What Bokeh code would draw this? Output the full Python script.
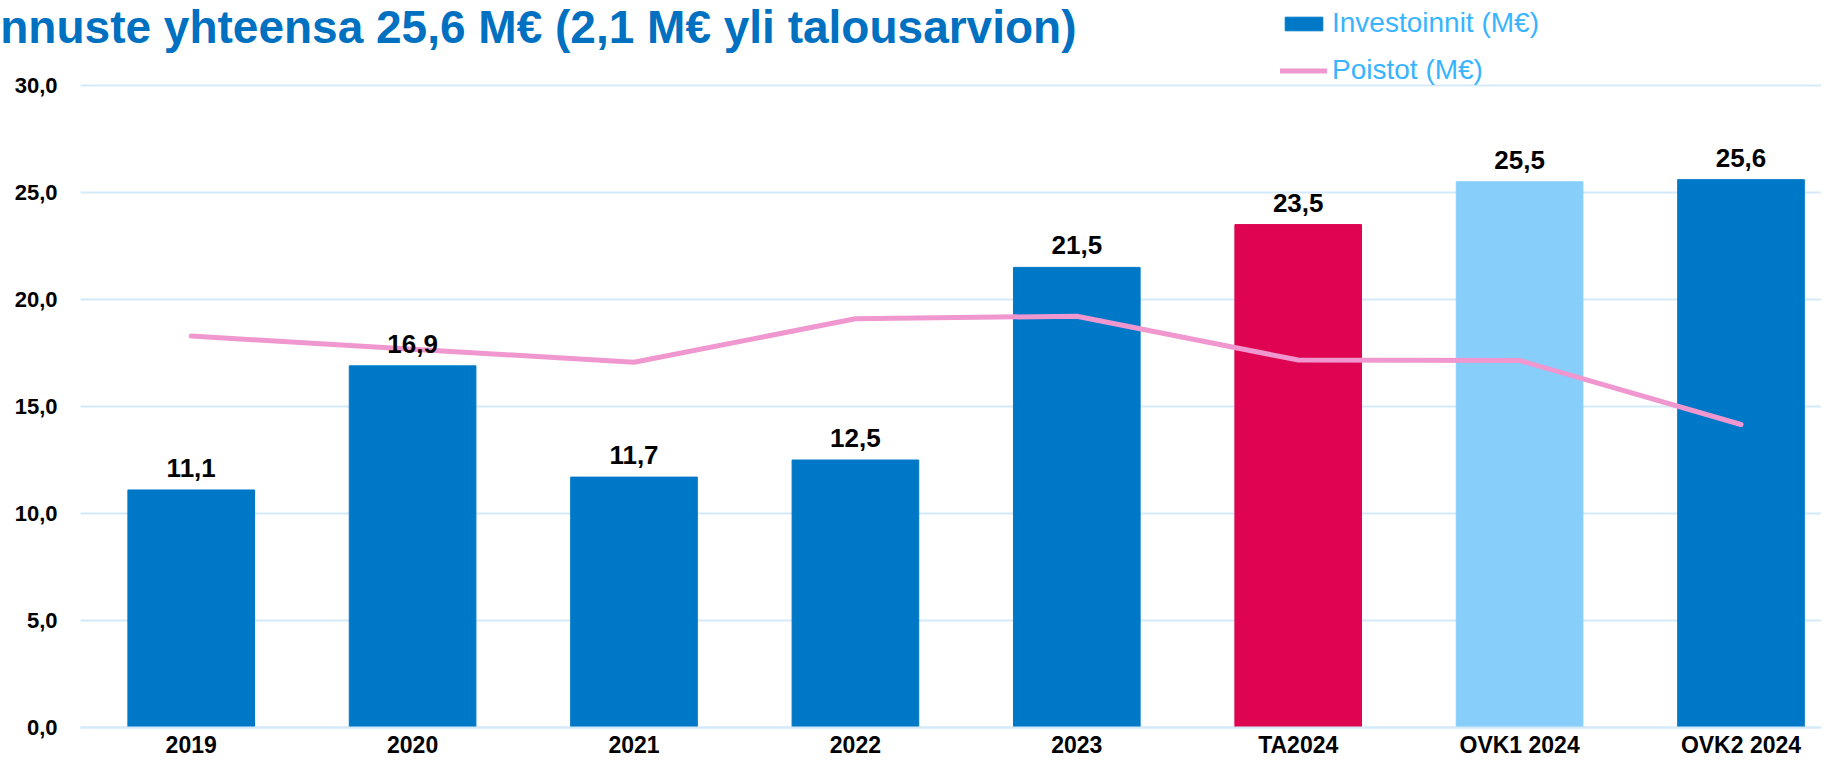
from bokeh.plotting import figure
from bokeh.models import ColumnDataSource, FixedTicker, Legend, LegendItem, Label, Range1d
from bokeh.core.properties import value
from bokeh.embed import file_html
from bokeh.resources import INLINE

categories = ["2019", "2020", "2021", "2022", "2023", "TA2024", "OVK1 2024", "OVK2 2024"]
investoinnit = [11.1, 16.9, 11.7, 12.5, 21.5, 23.5, 25.5, 25.6]
poistot = [18.29, 17.68, 17.07, 19.10, 19.22, 17.17, 17.15, 14.16]
bar_colors = ["#0078C8", "#0078C8", "#0078C8", "#0078C8", "#0078C8", "#DE0451", "#87CEFA", "#0078C8"]
y_ticks = [0, 5, 10, 15, 20, 25, 30]
title_text = "nnuste yhteensa 25,6 M€ (2,1 M€ yli talousarvion)"

W, H = 1821, 758
# plot-area geometry (pixels): left edge, top (30) and zero line
PX_LEFT, PX_TOP, PX_ZERO = 80, 85, 727
CAT_W = 221.4
Y_MAX = 30

xs = list(range(len(categories)))
labels = [f"{v:.1f}".replace(".", ",") for v in investoinnit]

# ranges chosen so that the frame covers the whole canvas
x_start = -0.5 - PX_LEFT / CAT_W
x_end = -0.5 + (W - PX_LEFT) / CAT_W
unit = (PX_ZERO - PX_TOP) / Y_MAX
y_end = Y_MAX + PX_TOP / unit
y_start = -(H - PX_ZERO) / unit

src = ColumnDataSource(dict(x=xs, top=investoinnit, color=bar_colors, label=labels, poistot=poistot))

FONT = "Liberation Sans"
GRID = "#D4EAF9"

p = figure(width=W, height=H, output_backend="svg", toolbar_location=None,
           x_range=Range1d(x_start, x_end), y_range=Range1d(y_start, y_end),
           min_border_left=0, min_border_right=0, min_border_top=0, min_border_bottom=0)
p.outline_line_color = None
p.background_fill_color = "white"
p.border_fill_color = "white"

# grid lines (only across the plot area)
p.xgrid.grid_line_color = None
p.ygrid.ticker = FixedTicker(ticks=y_ticks)
p.ygrid.grid_line_color = GRID
p.ygrid.grid_line_width = 2
try:
    p.ygrid.cross_bounds = (-0.5, x_end)
except Exception:
    p.ygrid.grid_line_color = None
    p.segment(x0=[-0.5] * len(y_ticks), x1=[x_end] * len(y_ticks), y0=y_ticks, y1=y_ticks,
              line_color=GRID, line_width=2)

bars = p.vbar(x="x", top="top", width=0.572, color="color", source=src)
line = p.line(x="x", y="poistot", source=src, line_color="#F097CF", line_width=5,
              line_cap="round", line_join="round")

p.text(x="x", y="top", text="label", source=src, text_align="center", text_baseline="bottom",
       y_offset=-13, text_font=value(FONT), text_font_style="bold", text_font_size="26px",
       text_color="black")

# axes drawn at fixed locations inside the canvas
p.xaxis.fixed_location = 0
p.xaxis.bounds = (-0.5, x_end)
p.xaxis.ticker = FixedTicker(ticks=xs)
p.xaxis.major_label_overrides = {i: c for i, c in enumerate(categories)}
p.xaxis.major_label_text_font = FONT
p.xaxis.major_label_text_font_style = "bold"
p.xaxis.major_label_text_font_size = "23px"
p.xaxis.major_label_text_color = "black"
p.xaxis.major_tick_line_color = None
p.xaxis.major_tick_out = 0
p.xaxis.major_tick_in = 0
p.xaxis.minor_tick_line_color = None
p.xaxis.axis_line_color = GRID
p.xaxis.axis_line_width = 2
p.xaxis.major_label_standoff = 4

p.yaxis.fixed_location = -0.5
p.yaxis.ticker = FixedTicker(ticks=y_ticks)
p.yaxis.major_label_overrides = {t: f"{t:.1f}".replace(".", ",") for t in y_ticks}
p.yaxis.major_label_text_font = FONT
p.yaxis.major_label_text_font_style = "bold"
p.yaxis.major_label_text_font_size = "22px"
p.yaxis.major_label_text_color = "black"
p.yaxis.major_tick_line_color = None
p.yaxis.major_tick_out = 0
p.yaxis.major_tick_in = 0
p.yaxis.minor_tick_line_color = None
p.yaxis.axis_line_color = None
p.yaxis.major_label_standoff = 23

legend = Legend(items=[LegendItem(label="Investoinnit (M€)", renderers=[bars]),
                       LegendItem(label="Poistot (M€)", renderers=[line])],
                location=(1280, H - 86), orientation="vertical",
                label_text_font=FONT, label_text_font_size="28px", label_text_color="#38B4FF",
                glyph_width=47, glyph_height=17, label_standoff=5, spacing=15,
                padding=0, margin=0, border_line_color=None, background_fill_alpha=0)
p.add_layout(legend, "center")

title = Label(x=1076, y=H, x_units="screen", y_units="screen", text=title_text,
              text_align="right", text_baseline="top", text_font=FONT,
              text_font_style="bold", text_font_size="46px", text_color="#0070C0")
p.add_layout(title)

open("out.html", "w").write(file_html(p, INLINE))
